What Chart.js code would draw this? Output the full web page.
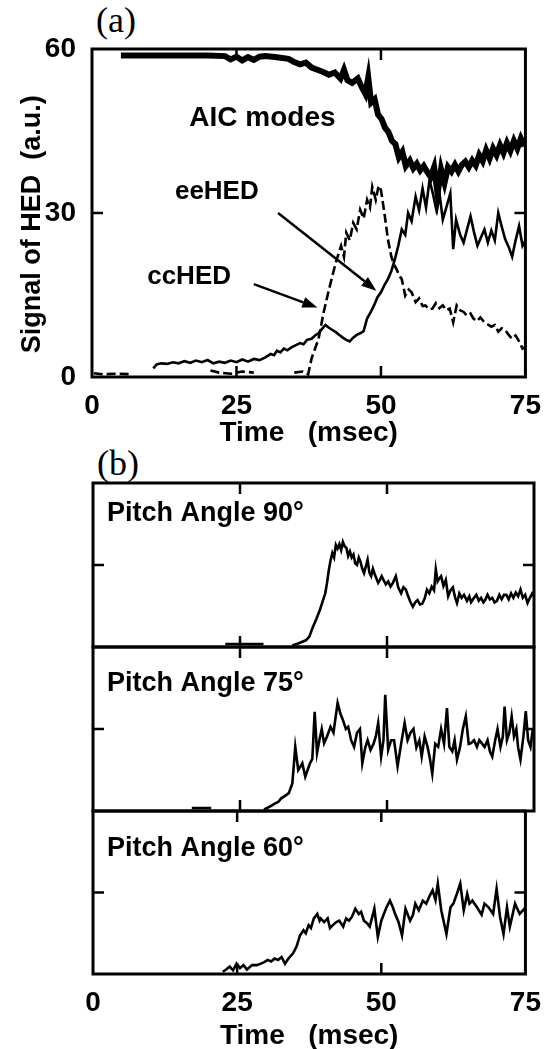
<!DOCTYPE html>
<html>
<head>
<meta charset="utf-8">
<script src="https://cdn.jsdelivr.net/npm/chart.js@4.4.1/dist/chart.umd.min.js"></script>
<style>
  html, body { margin: 0; padding: 0; background: #fff; }
  #wrap { position: relative; width: 553px; height: 1049px; overflow: hidden; }
  canvas { position: absolute; left: 0; }
  .tag { position: absolute; font-family: "Liberation Serif", "Times New Roman", serif; font-size: 36px; line-height: 1; color: #000; }
</style>
</head>
<body>
<div id="wrap">
  <div class="tag" style="left:96px; top:2px">(a)</div>
  <div class="tag" style="left:97px; top:445px">(b)</div>
  <canvas id="cA" width="553" height="450" style="top:0"></canvas>
  <canvas id="c90" width="553" height="172" style="top:479px"></canvas>
  <canvas id="c75" width="553" height="172" style="top:643px"></canvas>
  <canvas id="c60" width="553" height="246" style="top:807px"></canvas>
</div>
<script>
// ---- panel (a) : signal of HED, time in msec ----
const aicT = [5,10,15,20,23,24,25,26,27,28,29,30,32,34,35,36,37,38,39,40,41,42,43,43.6,44.2,45,46,46.6,47.3,47.8,48.3,48.9,49.5,50.1,50.7,51.3,51.9,52.5,53.1,53.7,54.3,55,55.6,56.2,56.8,57.4,58,58.6,59.2,59.8,60.4,61,61.6,62.2,62.8,63.4,64,64.6,65.2,65.8,66.4,67,67.6,68.2,68.8,69.4,70,70.6,71.2,71.8,72.4,73,73.6,74.2,74.8];
const aicV = [58.8,58.8,58.8,58.8,58.7,58.1,58.6,57.9,58.5,58.0,58.6,58.7,58.5,58.2,57.6,57.2,57.5,56.6,56.2,55.8,55.3,55.7,54.6,56.2,54.3,53.8,54.6,53.2,51.8,54.8,50.2,50.8,48.0,47.2,45.6,44.8,43.2,42.6,40.2,41.2,38.6,39.6,38.2,39.0,37.8,38.6,37.5,36.6,38.4,33.5,38.0,35.5,38.4,37.6,38.8,37.6,38.8,39.4,38.4,39.6,38.7,40.6,39.5,41.5,40.0,41.8,40.6,42.4,41.0,42.8,41.4,43.2,41.8,43.6,42.2];

// eeHED (solid)
const eeT = [10.6,11.2,12,13,14,15,16,17,18,19,20,21,22,23,24,25,26,27,28,29,30,30.9,31.5,32,32.6,33.2,33.8,34.5,35.2,36,36.6,37.2,38,38.6,39.2,39.8,40.4,41,41.6,42.2,42.8,43.4,44,44.6,45.2,45.8,46.4,47,47.6,48.2,48.8,49.4,50,50.6,51.2,51.8,52.4,53,53.6,54.2,54.7,55.3,56,56.6,57.2,57.8,58.4,59,59.6,60.2,60.7,61.3,62,62.5,63,63.7,64.3,64.9,65.5,66.1,66.7,67.3,67.9,68.5,69.1,69.7,70.3,70.9,71.5,72.1,72.7,73.3,73.9,74.5,75];
const eeV = [1.6,2.3,2.5,2.4,2.7,2.5,2.9,2.6,3.0,2.7,3.1,2.5,2.8,2.6,3.0,2.7,3.2,2.8,3.3,3.1,3.6,4.2,4.0,4.8,4.5,5.2,4.9,5.4,5.8,6.2,6.0,6.8,7.0,7.6,8.0,8.8,9.5,9.0,8.6,8.2,7.7,7.2,6.8,6.5,7.2,7.7,8.0,8.4,10.7,11.8,13.1,14.6,15.5,16.8,17.9,19.4,21.5,24.0,27.0,26.0,30.0,28.5,33.0,30.5,34.5,31.0,36.0,33.5,30.5,33.0,28.8,31.0,33.6,23.4,28.8,26.0,24.6,27.0,29.4,26.5,24.0,25.5,27.0,24.6,26.8,25.0,30.0,27.5,25.2,23.8,22.0,25.0,27.6,24.0,25.0];

// ccHED (dashed), null = gap
const ccT = [0.3,2,4,7,10,20.5,22,24,26,28,30,35,36.5,37.4,38,39.2,40.1,41,41.6,42.2,43.1,43.6,44,44.6,45.2,45.8,46.4,47,47.6,48.1,48.5,49.1,49.6,50,50.6,51.2,51.8,52.3,52.7,53.2,53.6,54.2,54.8,55.3,56,56.6,57.2,57.7,58.3,58.9,59.5,60.1,60.7,61.3,61.9,62.5,63.1,63.7,64.3,64.9,65.5,66,66.6,67.2,67.9,68.5,69.1,69.7,70.3,70.9,71.5,72.1,72.7,73.3,73.9,74.5,75];
const ccV = [0.7,0.5,0.6,0.5,null,1.2,0.8,0.6,1.0,0.8,null,0.8,1.0,0.5,3.4,7.0,11.9,16.0,18.5,21.0,24.0,22.0,26.4,25.0,28.2,27.0,30.6,29.0,32.4,31.0,34.8,32.4,35.0,34.2,30.0,25.2,22.0,20.5,19.7,18.5,17.9,14.9,16.0,15.5,13.7,14.4,13.0,13.1,12.4,12.5,13.5,12.6,13.1,12.2,12.5,10.0,13.1,12.2,11.9,11.2,11.6,10.7,10.2,10.9,10.0,9.6,9.2,9.5,8.3,8.9,8.6,7.7,7.0,7.6,6.5,5.2,5.5];

// ---- panel (b) : pitch angle 90 / 75 / 60 (arbitrary units, tick at 1.1) ----
const p90T = [22.5,29,31,33.9,35,36.2,36.8,37.4,38,38.6,39,39.5,39.8,40.1,40.4,40.7,41,41.3,41.6,41.9,42.2,42.5,42.8,43.1,43.4,43.7,44,44.3,44.6,44.9,45.2,45.5,45.8,46.1,46.4,46.7,47,47.3,47.6,47.9,48.2,48.5,48.8,49.1,49.4,49.8,50.2,50.6,51,51.5,51.9,52.4,52.8,53.2,53.6,54,54.4,54.8,55.2,55.6,56,56.4,56.8,57.2,57.6,58,58.3,58.6,58.9,59.2,59.6,60,60.4,60.8,61.2,61.6,61.9,62.3,62.7,63.1,63.6,64,64.3,64.8,65.2,65.6,66,66.4,66.7,67.1,67.5,67.9,68.3,68.7,69.1,69.5,69.9,70.3,70.7,71.1,71.5,71.9,72.3,72.7,73.1,73.5,73.9,74.3,74.7,75];
const p90V = [0.04,0.04,null,0.02,0.05,0.09,0.14,0.27,0.38,0.5,0.6,0.72,0.86,1.03,1.16,1.26,1.2,1.37,1.32,1.38,1.3,1.41,1.35,1.33,1.22,1.28,1.2,1.24,1.12,1.1,1.2,1.14,1.05,0.99,1.08,1.17,1.0,0.95,1.05,0.98,0.92,0.86,0.9,0.95,0.9,0.84,0.88,0.81,0.86,0.95,0.8,0.72,0.8,0.77,0.68,0.6,0.54,0.6,0.63,0.57,0.58,0.65,0.77,0.72,0.81,0.76,1.04,0.88,0.92,0.95,0.82,0.9,0.68,0.76,0.8,0.66,0.59,0.72,0.66,0.7,0.62,0.68,0.6,0.66,0.7,0.62,0.66,0.6,0.63,0.7,0.64,0.66,0.6,0.62,0.7,0.64,0.7,0.7,0.64,0.72,0.66,0.73,0.68,0.77,0.66,0.7,0.59,0.66,0.72,0.68];

const p75T = [16.8,20.1,25,29.1,30.3,30.9,31.5,32,32.6,33.3,33.9,34.4,34.9,35.3,35.6,36.1,36.5,36.9,37.3,37.7,38.1,38.5,38.9,39.3,39.8,40.4,40.9,41.6,42.1,42.5,43,43.4,43.9,44.4,44.9,45.4,45.8,46.3,46.7,47.2,47.7,48.1,48.5,49,49.4,49.7,50.2,50.7,51.2,51.8,52.4,53,53.5,54,54.5,55,55.5,55.9,56.4,56.9,57.3,57.7,58.2,58.7,59.2,59.7,60.2,60.6,61.1,61.5,61.9,62.4,62.9,63.4,63.9,64.3,64.8,65.3,65.7,66.1,66.6,67.1,67.5,67.9,68.4,68.8,69.3,69.7,70,70.4,70.8,71.2,71.6,72,72.3,72.7,73.2,73.6,74,74.4,74.8];
const p75V = [0.04,0.04,null,0.02,0.07,0.1,0.12,0.17,0.2,0.24,0.37,0.86,0.55,0.6,0.64,0.46,0.55,0.64,0.7,1.33,0.78,0.95,1.1,0.91,1.0,1.13,1.05,1.45,1.3,1.22,1.1,1.13,0.95,0.86,1.05,1.1,0.64,0.85,0.95,0.82,0.9,1.0,1.18,0.73,0.95,1.56,0.82,0.95,0.95,0.6,0.9,1.18,0.95,1.05,1.1,0.85,0.95,0.73,1.0,0.86,0.7,0.5,0.9,0.86,1.1,0.9,1.38,0.86,0.8,0.95,0.69,0.85,1.1,1.27,0.9,0.91,0.95,0.86,0.95,0.91,0.86,0.95,0.8,0.73,0.95,1.1,0.86,1.0,1.4,0.95,1.05,1.27,1.0,1.1,0.85,0.69,1.0,1.34,0.95,0.86,1.1];

const p60T = [22.5,23.1,23.7,24.3,24.9,25.5,26.1,26.7,27.6,28.4,29.1,29.7,30.3,30.9,31.5,32.1,32.7,33.3,33.9,34.7,35.3,35.9,36.5,36.9,37.4,37.8,38.3,38.9,39.3,39.5,40.1,40.7,41.1,41.6,42.2,42.7,43.4,43.9,44.4,44.9,45.5,46.1,46.5,47,47.6,48,48.8,49.4,50,50.9,51.5,52,52.4,53,53.6,54.2,55,55.5,55.9,56.5,57.2,57.8,58.3,58.9,59.4,59.8,60.4,61.3,62,62.5,63.1,63.7,64.3,64.9,65.3,65.8,66.6,67.4,67.9,68.6,69.4,70,70.6,71.2,71.8,72.3,73.2,74,74.8,75];
const p60V = [0.03,0.06,0.1,0.05,0.14,0.08,0.12,0.06,0.12,0.12,0.14,0.16,0.19,0.17,0.21,0.19,0.23,0.14,0.21,0.28,0.37,0.52,0.59,0.55,0.66,0.62,0.75,0.81,0.72,0.75,0.7,0.75,0.62,0.66,0.7,0.72,0.64,0.75,0.72,0.77,0.88,0.81,0.84,0.72,0.68,0.64,0.88,0.5,0.72,0.9,0.99,0.9,0.81,0.7,0.52,0.88,0.72,0.8,0.95,0.86,0.99,0.95,1.04,1.13,1.0,1.22,0.86,0.54,0.9,0.95,1.08,1.22,0.86,1.08,0.95,0.99,0.9,0.8,0.95,0.9,0.81,1.15,0.77,0.54,0.9,0.64,0.95,0.81,0.88,0.9];

const xTickVals = [0, 25, 50, 75];

const FONT = '"Liberation Sans", Arial, Helvetica, sans-serif';
Chart.defaults.font.family = FONT;
Chart.defaults.color = '#000';

function toXY(ts, vs) {
  return ts.map((t, i) => ({ x: t, y: vs[i] === undefined ? null : vs[i] }));
}

// box, inward ticks, text notes and arrows (settings kept in the closure)
function makeFrame(o) {
  return {
    id: 'frame',
    afterDatasetsDraw(chart) {
      const { ctx, chartArea: a } = chart;
      const x = chart.scales.x, y = chart.scales.y;
      ctx.save();
      ctx.strokeStyle = '#000';
      ctx.fillStyle = '#000';
      ctx.lineWidth = 3;
      ctx.strokeRect(a.left, a.top, a.right - a.left, a.bottom - a.top);

      ctx.lineWidth = 2.5;
      ctx.beginPath();
      (o.xTicks || []).forEach(t => {
        const p = x.getPixelForValue(t);
        ctx.moveTo(p, a.top); ctx.lineTo(p, a.top + 11);
        ctx.moveTo(p, a.bottom); ctx.lineTo(p, a.bottom - 11);
      });
      (o.yTicks || []).forEach(v => {
        const p = y.getPixelForValue(v);
        ctx.moveTo(a.left, p); ctx.lineTo(a.left + 11, p);
        ctx.moveTo(a.right, p); ctx.lineTo(a.right - 11, p);
      });
      ctx.stroke();

      (o.arrows || []).forEach(ar => {
        const x0 = x.getPixelForValue(ar.from[0]), y0 = y.getPixelForValue(ar.from[1]);
        const x1 = x.getPixelForValue(ar.to[0]), y1 = y.getPixelForValue(ar.to[1]);
        const c = Math.cos(Math.atan2(y1 - y0, x1 - x0)), s = Math.sin(Math.atan2(y1 - y0, x1 - x0));
        const len = 15, half = 5.5;
        ctx.lineWidth = 2.5;
        ctx.beginPath();
        ctx.moveTo(x0, y0);
        ctx.lineTo(x1 - len * c, y1 - len * s);
        ctx.stroke();
        ctx.beginPath();
        ctx.moveTo(x1, y1);
        ctx.lineTo(x1 - len * c + half * s, y1 - len * s - half * c);
        ctx.lineTo(x1 - len * c - half * s, y1 - len * s + half * c);
        ctx.closePath();
        ctx.fill();
      });

      ctx.textBaseline = 'middle';
      (o.notes || []).forEach(n => {
        ctx.font = 'bold ' + n.size + 'px ' + FONT;
        ctx.textAlign = n.align || 'center';
        const px = n.at ? x.getPixelForValue(n.at[0]) : a.left + n.dx;
        const py = n.at ? y.getPixelForValue(n.at[1]) : a.top + n.dy;
        ctx.fillText(n.text, px, py);
      });
      ctx.restore();
    }
  };
}

const tickFont = { size: 28, weight: 'bold' };
const line = (data, width, dash) => ({
  data, borderColor: '#000', borderWidth: width, borderDash: dash || [],
  pointRadius: 0, tension: 0, fill: false, spanGaps: false
});

function xAxis(show, height) {
  const axis = {
    type: 'linear', min: 0, max: 75, display: show,
    afterBuildTicks: s => { s.ticks = xTickVals.map(v => ({ value: v })); },
    ticks: { padding: 12, font: tickFont, maxRotation: 0, autoSkip: false },
    grid: { display: false, drawTicks: false }, border: { display: false },
    title: { display: show, text: 'Time   (msec)', font: { size: 28, weight: 'bold' }, padding: { top: 0, bottom: 0 } }
  };
  if (show) axis.afterFit = s => { s.height = height; };
  return axis;
}

// panel (a)
new Chart(document.getElementById('cA'), {
  type: 'line',
  data: { datasets: [
    line(toXY(aicT, aicV), 6),
    line(toXY(eeT, eeV), 2.6),
    line(toXY(ccT, ccV), 2.6, [9, 4])
  ]},
  options: {
    responsive: false, animation: false, events: [],
    layout: { padding: { top: 49, right: 19, left: 0, bottom: 0 } },
    plugins: { legend: { display: false }, tooltip: { enabled: false } },
    scales: {
      x: xAxis(true, 73),
      y: {
        min: 0, max: 60,
        ticks: { stepSize: 30, padding: 16, font: tickFont },
        grid: { display: false, drawTicks: false }, border: { display: false },
        title: { display: true, text: 'Signal of HED  (a.u.)   ', font: { size: 27, weight: 'bold' }, padding: { top: 16, bottom: 0 } },
        afterFit: s => { s.width = 92; }
      }
    }
  },
  plugins: [makeFrame({
    xTicks: [25, 50], yTicks: [30],
    notes: [
      { text: 'AIC modes', at: [29.5, 47.4], size: 28 },
      { text: 'eeHED', at: [21.6, 33.8], size: 26 },
      { text: 'ccHED', at: [16.8, 18.4], size: 26 }
    ],
    arrows: [
      { from: [32.2, 30.0], to: [49.2, 15.8] },
      { from: [28.0, 17.0], to: [39.0, 12.7] }
    ]
  })]
});

// panel (b)
function pitchChart(id, T, V, label, labelDy, last) {
  return new Chart(document.getElementById(id), {
    type: 'line',
    data: { datasets: [line(toXY(T, V), 2.6)] },
    options: {
      responsive: false, animation: false, events: [],
      layout: { padding: { top: 4, right: 19, left: 93, bottom: last ? 0 : 4 } },
      plugins: { legend: { display: false }, tooltip: { enabled: false } },
      scales: {
        x: xAxis(last, 79),
        y: { min: 0, max: 2.2, display: false }
      }
    },
    plugins: [makeFrame({
      xTicks: [25, 50], yTicks: [1.1],
      notes: [{ text: label, dx: 14, dy: labelDy, size: 27, align: 'left' }]
    })]
  });
}

pitchChart('c90', p90T, p90V, 'Pitch Angle 90\u00B0', 31, false);
pitchChart('c75', p75T, p75V, 'Pitch Angle 75\u00B0', 37, false);
pitchChart('c60', p60T, p60V, 'Pitch Angle 60\u00B0', 38, true);
</script>
</body>
</html>
